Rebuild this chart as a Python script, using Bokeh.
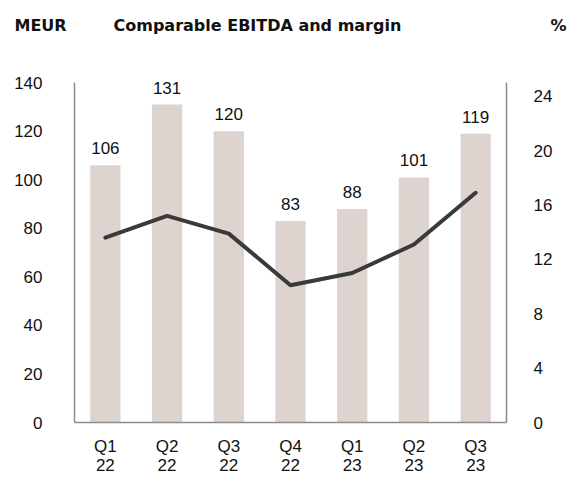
from bokeh.plotting import figure
from bokeh.layouts import column
from bokeh.models import Range1d, LinearAxis, FixedTicker, ColumnDataSource
from bokeh.core.properties import value
from bokeh.embed import file_html
from bokeh.resources import INLINE

quarters = ["Q1\n22", "Q2\n22", "Q3\n22", "Q4\n22", "Q1\n23", "Q2\n23", "Q3\n23"]
ebitda = [106, 131, 120, 83, 88, 101, 119]
margin = [13.6, 15.2, 13.9, 10.1, 11.0, 13.1, 16.9]
left_ticks = [0, 20, 40, 60, 80, 100, 120, 140]
right_ticks = [0, 4, 8, 12, 16, 20, 24]
header_texts = ["MEUR", "Comparable EBITDA and margin", "%"]

FONT = "Liberation Sans"
TFONT = "DejaVu Sans"
AX = "#8c8c8c"
W = 568
HH = 45

# ---- header strip (titles) ----
h = figure(width=W, height=HH, x_range=Range1d(0, W), y_range=Range1d(0, HH),
           output_backend="svg", toolbar_location=None, x_axis_type=None, y_axis_type=None,
           min_border=0, min_border_left=0, min_border_right=0, min_border_top=0, min_border_bottom=0)
h.frame_align = False
h.outline_line_color = None
h.grid.grid_line_color = None
hsrc = ColumnDataSource(dict(x=[14, 113, 550], y=[HH - 25] * 3, t=header_texts))
h.text(x="x", y="y", text="t", source=hsrc, text_font=value(TFONT), text_font_size="16px",
       text_font_style="bold", text_baseline="alphabetic", text_align="left", text_color="#111111")

# ---- main chart ----
# frame spans 0..150 so that value labels above the tallest bar are not clipped;
# the axis lines stop at 140 (left) / 25 (right) like the reference.
p = figure(width=W, height=479 - HH, x_range=quarters, y_range=Range1d(0, 150),
           output_backend="svg", toolbar_location=None,
           min_border_left=74, min_border_right=62, min_border_top=58 - HH, min_border_bottom=57)
p.frame_align = False
p.outline_line_color = None
p.grid.grid_line_color = None
p.extra_y_ranges = {"pct": Range1d(0, 25 * 150 / 140)}

src = ColumnDataSource(dict(q=quarters, v=ebitda, t=[str(v) for v in ebitda], m=margin))
p.vbar(x="q", top="v", width=0.49, source=src, fill_color="#DDD3CF", line_color=None)
p.line(x="q", y="m", source=src, y_range_name="pct", line_color="#3a3a3a", line_width=4,
       line_join="round", line_cap="round")
p.text(x="q", y="v", text="t", source=src, text_align="center", text_baseline="bottom",
       y_offset=-11, text_font=value(FONT), text_font_size="17px", text_color="#111111")

ya = p.yaxis[0]
ya.ticker = FixedTicker(ticks=left_ticks)
ya.bounds = (0, 140)
ra = LinearAxis(y_range_name="pct", ticker=FixedTicker(ticks=right_ticks), bounds=(0, 25))
p.add_layout(ra, "right")

for ax in [ya, ra, p.xaxis[0]]:
    ax.axis_line_color = AX
    ax.axis_line_width = 1.5
    ax.major_tick_line_color = None
    ax.minor_tick_line_color = None
    ax.major_tick_out = 0
    ax.major_tick_in = 0
    ax.minor_tick_out = 0
    ax.major_label_text_font = FONT
    ax.major_label_text_font_size = "17px"
    ax.major_label_text_color = "#111111"
ya.major_label_standoff = 32
ra.major_label_standoff = 27
p.xaxis[0].major_label_standoff = 14
p.xaxis[0].major_label_text_line_height = 1.05

layout = column(h, p, spacing=0)
open("out.html", "w").write(file_html(layout, INLINE))
